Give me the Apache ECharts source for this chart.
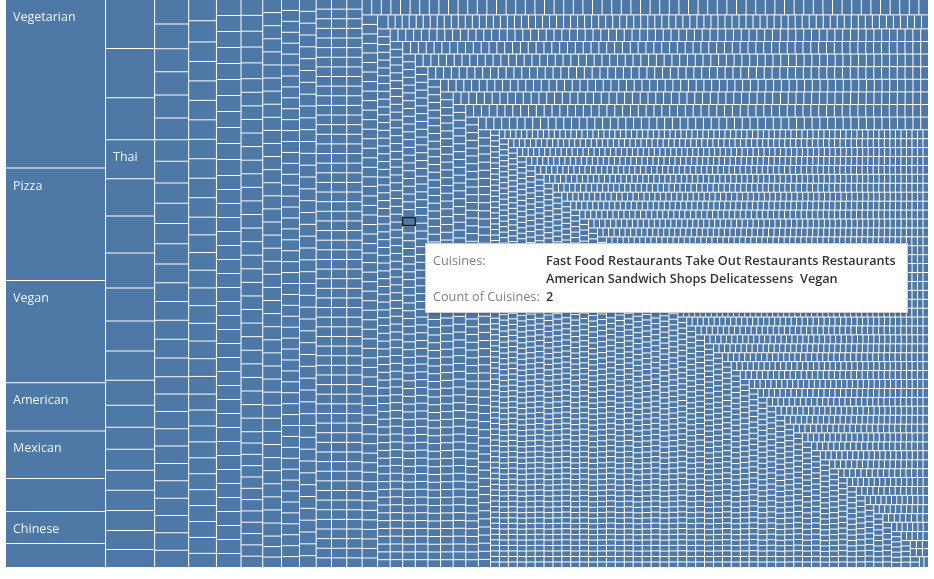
<!DOCTYPE html>
<html><head><meta charset="utf-8">
<script src="https://cdn.jsdelivr.net/npm/echarts@6/dist/echarts.min.js"></script>
<style>html,body{margin:0;padding:0;background:#fff}#chart{width:934px;height:579px}</style>
</head><body><div id="chart"></div>
<script>
// Largest cuisine strings (count of cuisines), in descending order
const largeCounts = [
  343,229,208,98,97,67,65,49,
  49,49,42,39,37,37,35,33,30,29,25,22,22,21,20,20,20,19,18,
  17,17,16,16,16,15,15,15,14,14,14,14,13,13,13,13,13,13,12,12,12,12,12,12,12,12,12,12,
  12,12,12,11,11,11,11,11,11,11,11,11,10,10,10,10,10,10,10,10,10,10,9,9,9,9,9,9,9,9,9,9
];
const largeLabels = ['Vegetarian','Pizza','Vegan','American','Mexican',null,'Chinese',null,null,null,null,'Thai'];
// Many small cuisine strings: count value and how many strings have it
const repeatedCounts    = [8, 7, 6, 5, 4, 3, 2, 1];
const repeatedFrequency = [12, 33, 26, 53, 103, 295, 1145, 3900];
// Hovered mark shown in the tooltip
const tooltipCuisine = 'Fast Food Restaurants Take Out Restaurants Restaurants American Sandwich Shops Delicatessens  Vegan';
const tooltipCount = 2;

const BOX = {left: 6, top: 0, width: 922, height: 567};
const hoverPoint = [409, 224];

const data = [];
largeCounts.forEach((v, i) => data.push({name: largeLabels[i] || ('Cuisine string ' + (i + 1)), value: v}));
let n = largeCounts.length;
repeatedCounts.forEach((v, k) => {
  for (let j = 0; j < repeatedFrequency[k]; j++) { n++; data.push({name: 'Cuisine string ' + n, value: v}); }
});
const labelSet = new Set(largeLabels.filter(Boolean));

const chart = echarts.init(document.getElementById('chart'));
const option = {
  animation: false,
  backgroundColor: '#fff',
  color: ['#4e79a7'],
  tooltip: {
    trigger: 'item',
    triggerOn: 'none',
    alwaysShowContent: true,
    position: [425, 243],
    backgroundColor: '#fff',
    borderColor: '#d0d0d0',
    borderWidth: 1,
    padding: [7, 7, 7, 7],
    extraCssText: 'box-shadow:0 1px 4px rgba(0,0,0,0.22);border-radius:0;',
    formatter: p => '<div style="display:grid;grid-template-columns:113px 354px;line-height:18px;font-family:\'Open Sans\',sans-serif;font-size:12.7px">' +
      '<div style="color:#808080">Cuisines:</div><div style="color:#333;white-space:pre-wrap;font-weight:600">' + p.name + '</div>' +
      '<div style="color:#808080">Count of Cuisines:</div><div style="color:#333;font-weight:600">' + p.value + '</div></div>'
  },
  series: [{
    type: 'treemap',
    left: BOX.left, top: BOX.top, width: BOX.width, height: BOX.height,
    roam: false, nodeClick: false,
    breadcrumb: {show: false},
    visibleMin: 0, childrenVisibleMin: 0,
    sort: 'desc',
    label: {
      show: true, position: [7, 11], padding: 0, distance: 0,
      fontFamily: 'Open Sans', fontSize: 12.5, color: 'rgba(255,255,255,0.92)',
      formatter: p => labelSet.has(p.name) ? p.name : ''
    },
    emphasis: {disabled: true},
    levels: [
      {itemStyle: {borderColor: '#fff', borderWidth: 0, gapWidth: 1}},
      {itemStyle: {color: '#4e79a7', borderWidth: 0, gapWidth: 0}}
    ],
    data: data
  }]
};
chart.setOption(option);

try {
  const sd = chart.getModel().getSeriesByIndex(0).getData();
  const idxByName = new Map(data.map((d, i) => [d.name, i]));
  let found = -1, lay = null;
  for (let i = 0; i < sd.count(); i++) {
    const l = sd.getItemLayout(i);
    const k = idxByName.get(sd.getName(i));
    if (!l || k === undefined || data[k].value !== tooltipCount) continue;
    const x = BOX.left + l.x, y = BOX.top + l.y;
    if (hoverPoint[0] >= x && hoverPoint[0] <= x + l.width && hoverPoint[1] >= y && hoverPoint[1] <= y + l.height) {
      found = i; lay = {x, y, w: l.width, h: l.height}; data[k].name = tooltipCuisine; break;
    }
  }
  if (found >= 0) {
    chart.setOption({
      series: [{data: data}],
      graphic: [{type: 'rect', z: 100, silent: true,
        shape: {x: lay.x - 0.5, y: lay.y - 0.5, width: lay.w + 1, height: lay.h + 1},
        style: {fill: 'none', stroke: '#1f1f1f', lineWidth: 1.5}}]
    });
    chart.dispatchAction({type: 'showTip', seriesIndex: 0, dataIndex: found});
  }
} catch (e) { console.error(e); }
</script></body></html>
